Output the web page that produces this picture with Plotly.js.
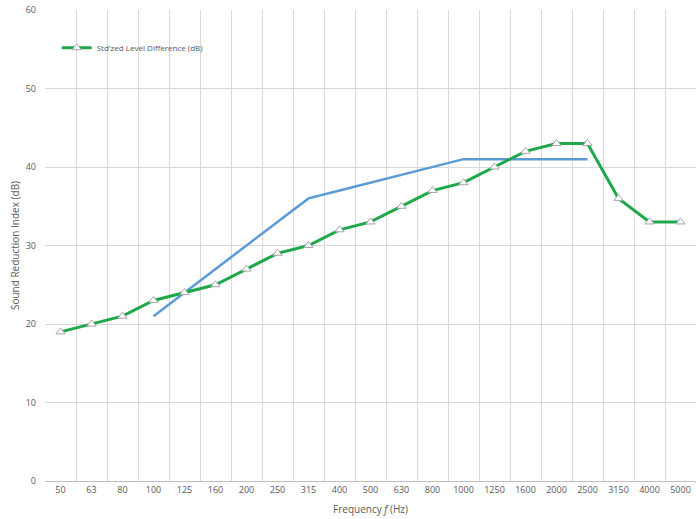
<!DOCTYPE html>
<html>
<head>
<meta charset="utf-8">
<script src="https://cdn.plot.ly/plotly-3.0.1.min.js"></script>
<style>html,body{margin:0;padding:0;background:#fff}#chart{width:696px;height:519px}</style>
</head>
<body>
<div id="chart"></div>
<script>
const frequencies = ["50","63","80","100","125","160","200","250","315","400","500","630","800","1000","1250","1600","2000","2500","3150","4000","5000"];
const levelDifference = [19,20,21,23,24,25,27,29,30,32,33,35,37,38,40,42,43,43,36,33,33];
const refFrequencies = ["100","125","160","200","250","315","400","500","630","800","1000","1250","1600","2000","2500"];
const referenceCurve = [21,24,27,30,33,36,37,38,39,40,41,41,41,41,41];
const yTicks = [0,10,20,30,40,50,60];

const font = "Open Sans, Liberation Sans, sans-serif";
const grey = "#595959";

const traces = [
  {
    x: refFrequencies, y: referenceCurve, type: "scatter", mode: "lines",
    line: {color: "#5b9bd5", width: 2.5}, showlegend: false, hoverinfo: "skip"
  },
  {
    x: frequencies, y: levelDifference, type: "scatter", mode: "lines+markers",
    name: "Std'zed Level Difference (dB)",
    line: {color: "#1fa84a", width: 3},
    marker: {symbol: "triangle-up", size: 8, color: "#ffffff", line: {color: "#a6a6a6", width: 1}}
  }
];

const layout = {
  width: 696, height: 519,
  margin: {l: 45, r: 0, t: 10, b: 38},
  paper_bgcolor: "#fff", plot_bgcolor: "#fff",
  font: {family: font, size: 9, color: grey},
  showlegend: true,
  legend: {x: 0.018, y: 0.92, xanchor: "left", yanchor: "middle", bgcolor: "rgba(0,0,0,0)",
           itemwidth: 30,
           font: {size: 8, color: grey, family: font}},
  xaxis: {
    type: "category", categoryorder: "array", categoryarray: frequencies,
    tickson: "boundaries", showgrid: true, gridcolor: "#d9d9d9", gridwidth: 1,
    ticks: "", showline: true, linecolor: "#bfbfbf",
    tickfont: {size: 9, color: grey},
    range: [-0.5, 20.5],
    title: {text: "Frequency <i>f</i> (Hz)", font: {size: 10, color: grey}, standoff: 11}
  },
  yaxis: {
    range: [0, 60], tickvals: yTicks, ticktext: yTicks.map(String),
    showgrid: true, gridcolor: "#d9d9d9", zeroline: false, showline: false,
    ticks: "", ticklabelstandoff: 8,
    tickfont: {size: 9, color: grey},
    title: {text: "Sound Reduction Index (dB)", font: {size: 10, color: grey}, standoff: 4}
  }
};

Plotly.newPlot("chart", traces, layout, {staticPlot: true, displayModeBar: false});
</script>
</body>
</html>
